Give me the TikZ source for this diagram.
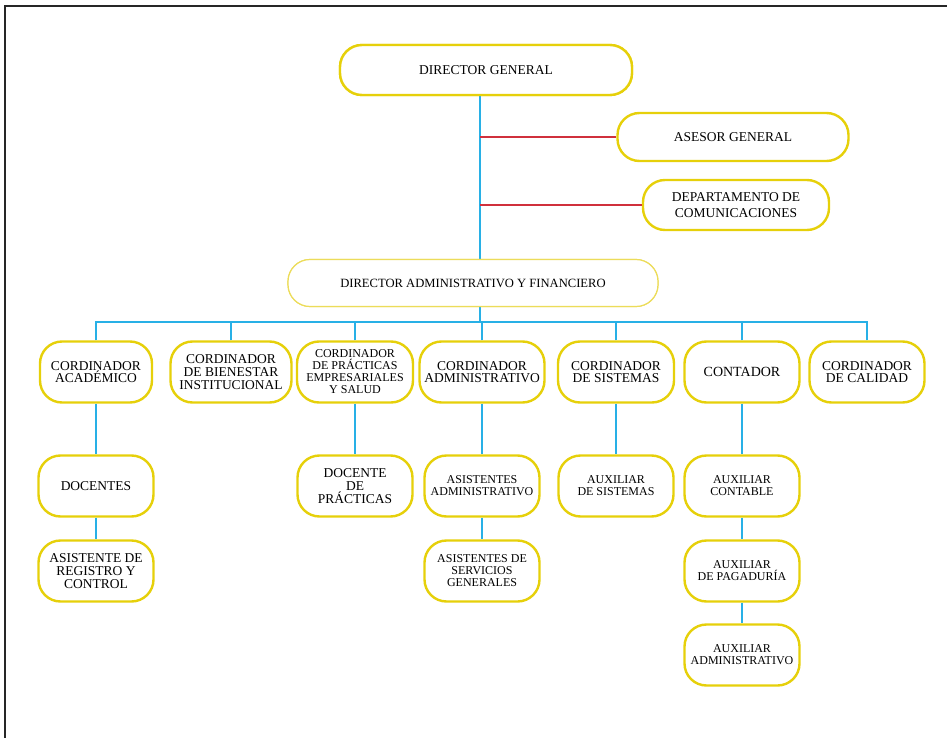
\documentclass[tikz,border=0pt]{standalone}
\usepackage{fontspec}
\setmainfont{Liberation Serif}
\usetikzlibrary{positioning,calc}
\definecolor{boxyellow}{RGB}{230,208,10}
\definecolor{paleyellow}{RGB}{236,220,90}
\definecolor{linkblue}{RGB}{40,176,230}
\definecolor{linkred}{RGB}{208,48,60}
\tikzstyle{post} = [draw=boxyellow, line width=2.4pt, fill=white, rectangle, rounded corners=22pt, minimum height=61pt, minimum width=115pt, align=center, inner sep=2pt, font=\fontsize{13.5}{12.6}\selectfont]
\tikzstyle{small} = [font=\fontsize{12}{12}\selectfont]
\tikzstyle{head} = [post, minimum height=50pt, font=\fontsize{13.5}{16.5}\selectfont]
\tikzstyle{wide} = [post, draw=paleyellow, line width=1.2pt, minimum height=47pt, font=\fontsize{12.6}{14}\selectfont]
\tikzstyle{bluelink} = [draw=linkblue, line width=1.2pt]
\tikzstyle{redlink} = [draw=linkred, line width=1.2pt]

\begin{document}
\begin{tikzpicture}[x=1pt, y=1pt, node distance=85pt]
    \useasboundingbox (0,0) rectangle (947,-738);
    % Frame
    \draw [line width=2pt, black!85] (5,-738) -- (5,-6) -- (947,-6);

    % Top
    \node [head, minimum width=292pt] (dg) at (486,-70) {DIRECTOR GENERAL};
    \node [head, minimum width=231pt, minimum height=48pt] (asesor) at (733,-137) {ASESOR GENERAL};
    \node [head, minimum width=186pt] (depto) at (736,-205) {DEPARTAMENTO DE\\COMUNICACIONES};
    \node [wide, minimum width=370pt] (daf) at (473,-283) {DIRECTOR ADMINISTRATIVO Y FINANCIERO};
    \coordinate (bus) at (480,-322);

    % Coordinators
    \node [post, minimum width=112pt] (acad) at (96,-372) {CORDINADOR\\ACADÉMICO};
    \node [post, minimum width=121pt] (bienestar) at (231,-372) {CORDINADOR\\DE BIENESTAR\\INSTITUCIONAL};
    \node [post, small, minimum width=116pt] (practicas) at (355,-372) {CORDINADOR\\DE PRÁCTICAS\\EMPRESARIALES\\Y SALUD};
    \node [post, minimum width=125pt] (admin) at (482,-372) {CORDINADOR\\ADMINISTRATIVO};
    \node [post, minimum width=116pt] (sistemas) at (616,-372) {CORDINADOR\\DE SISTEMAS};
    \node [post, font=\fontsize{14}{12}\selectfont] (contador) at (742,-372) {CONTADOR};
    \node [post] (calidad) at (867,-372) {CORDINADOR\\DE CALIDAD};

    % Staff
    \node [post, below of=acad, node distance=114pt] (docentes) {DOCENTES};
    \node [post, below of=docentes] (registro) {ASISTENTE DE\\REGISTRO Y\\CONTROL};
    \node [post, below of=practicas, node distance=114pt] (docprac) {DOCENTE\\DE\\PRÁCTICAS};
    \node [post, small, below of=admin, node distance=114pt] (asisadm) {ASISTENTES\\ADMINISTRATIVO};
    \node [post, small, below of=asisadm] (servicios) {ASISTENTES DE\\SERVICIOS\\GENERALES};
    \node [post, small, below of=sistemas, node distance=114pt] (auxsis) {AUXILIAR\\DE SISTEMAS};
    \node [post, small, below of=contador, node distance=114pt] (auxcont) {AUXILIAR\\CONTABLE};
    \node [post, small, below of=auxcont] (pagaduria) {AUXILIAR\\DE PAGADURÍA};
    \node [post, small, below of=pagaduria, node distance=84pt] (auxadm) {AUXILIAR\\ADMINISTRATIVO};

    % Connections
    \draw [bluelink] (dg.south -| bus) -- (bus);
    \draw [redlink] (asesor.west -| bus) -- (asesor);
    \draw [redlink] (depto.west -| bus) -- (depto);
    \foreach \n in {acad,bienestar,practicas,admin,sistemas,contador,calidad}
        \draw [bluelink] (\n.north) |- (bus);
    \draw [bluelink] (acad) -- (docentes);
    \draw [bluelink] (docentes) -- (registro);
    \draw [bluelink] (practicas) -- (docprac);
    \draw [bluelink] (admin) -- (asisadm);
    \draw [bluelink] (asisadm) -- (servicios);
    \draw [bluelink] (sistemas) -- (auxsis);
    \draw [bluelink] (contador) -- (auxcont);
    \draw [bluelink] (auxcont) -- (pagaduria);
    \draw [bluelink] (pagaduria) -- (auxadm);
    % boxes that the trunk runs behind
    \node [head, minimum width=292pt] at (dg) {DIRECTOR GENERAL};
    \node [wide, minimum width=370pt] at (daf) {DIRECTOR ADMINISTRATIVO Y FINANCIERO};
\end{tikzpicture}
\end{document}
